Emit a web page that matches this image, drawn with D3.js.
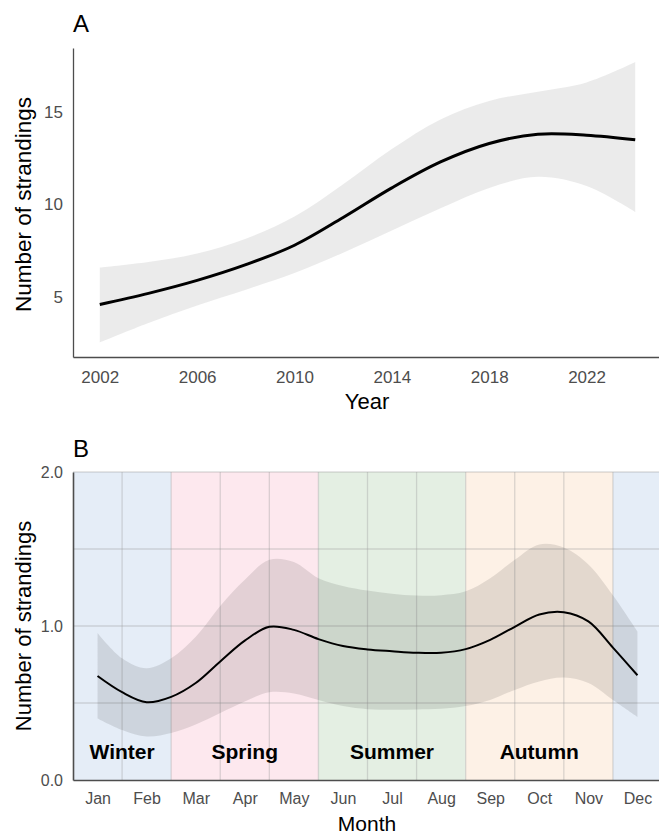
<!DOCTYPE html>
<html><head><meta charset="utf-8">
<script src="https://cdn.jsdelivr.net/npm/d3@7"></script>
<style>body{margin:0;background:#fff}svg{display:block;font-family:"Liberation Sans",Arial,sans-serif}</style>
</head><body>
<svg id="c" width="659" height="834"></svg>
<script>
// Panel A data
const years = [2002,2004,2006,2008,2010,2012,2014,2016,2018,2020,2022,2024];
const fitA  = [4.6,5.2,5.9,6.75,7.8,9.3,10.9,12.3,13.3,13.8,13.75,13.5];
const loA   = [2.55,3.6,4.55,5.4,6.3,7.4,8.6,9.8,10.9,11.5,11.0,9.6];
const hiA   = [6.6,6.9,7.35,8.15,9.35,11.1,13.0,14.6,15.6,16.1,16.6,17.7];
const yearTicks = [2002,2006,2010,2014,2018,2022];
const countTicksA = [5,10,15];

// Panel B data
const months = [1,1.5,2,2.5,3,3.5,4,4.5,5,5.5,6,6.5,7,7.5,8,8.5,9,9.5,10,10.5,11,11.5,12];
const fitB = [0.675,0.57,0.505,0.54,0.63,0.77,0.905,0.995,0.975,0.915,0.87,0.848,0.836,0.826,0.826,0.85,0.91,0.995,1.075,1.09,1.03,0.86,0.68];
const loB  = [0.40,0.325,0.283,0.305,0.36,0.435,0.51,0.57,0.562,0.52,0.48,0.46,0.456,0.458,0.462,0.48,0.52,0.585,0.64,0.665,0.63,0.52,0.41];
const hiB  = [0.955,0.79,0.725,0.79,0.93,1.13,1.30,1.43,1.415,1.31,1.26,1.23,1.21,1.198,1.2,1.225,1.31,1.43,1.53,1.51,1.40,1.20,0.965];
const monthLabels = ["Jan","Feb","Mar","Apr","May","Jun","Jul","Aug","Sep","Oct","Nov","Dec"];
const countTicksB = [0,1,2];
const gridB = [0.5,1,1.5,2];
const seasonNames  = ["Winter","Spring","Summer","Autumn","Winter"];
const seasonStart  = [0.5,2.5,5.5,8.5,11.5];
const seasonEnd    = [2.5,5.5,8.5,11.5,12.5];
const seasonLabelAt= [1.5,4,7,10,null];
const seasonColors = ["#e5edf7","#fde8ee","#e4efe3","#fdf1e6","#e5edf7"];

const svg = d3.select("#c");
const axisCol = "#4d4d4d";
const smooth = d3.curveCatmullRom.alpha(0.5);

// ---------- Panel A ----------
const xA = d3.scaleLinear().domain([2000.9,2025.1]).range([73,662]);
const yA = d3.scaleLinear().domain([1.76,18.46]).range([357,48]);
const A = svg.append("g");
const dA = years.map((y,i)=>({x:y,f:fitA[i],lo:loA[i],hi:hiA[i]}));
A.append("path").datum(dA)
  .attr("fill","#999999").attr("fill-opacity",0.2)
  .attr("d",d3.area().x(d=>xA(d.x)).y0(d=>yA(d.lo)).y1(d=>yA(d.hi)).curve(smooth));
A.append("path").datum(dA)
  .attr("fill","none").attr("stroke","#000").attr("stroke-width",3)
  .attr("d",d3.line().x(d=>xA(d.x)).y(d=>yA(d.f)).curve(smooth));
const axA = A.append("g").attr("transform","translate(0,357)")
  .call(d3.axisBottom(xA).tickValues(yearTicks).tickFormat(d3.format("d")).tickSize(0).tickPadding(14));
const ayA = A.append("g").attr("transform","translate(73,0)")
  .call(d3.axisLeft(yA).tickValues(countTicksA).tickSize(0).tickPadding(10));
[axA,ayA].forEach(g=>{
  g.select(".domain").attr("stroke",axisCol).attr("stroke-width",1.3);
  g.selectAll("text").attr("fill",axisCol).attr("font-size",17).attr("font-family","Liberation Sans, Arial, sans-serif");
});
A.append("text").attr("x",73).attr("y",32).attr("font-size",24).attr("fill","#000").text("A");
A.append("text").attr("x",367).attr("y",409).attr("text-anchor","middle").attr("font-size",22).attr("fill","#000").text("Year");
A.append("text").attr("transform","translate(31,"+((52+357)/2)+") rotate(-90)").attr("text-anchor","middle").attr("font-size",22.5).attr("fill","#000").text("Number of strandings");

// ---------- Panel B ----------
const xB = d3.scaleLinear().domain([0.5,12.5]).range([73,662]);
const yB = d3.scaleLinear().domain([0,2]).range([780,472]);
const B = svg.append("g");
B.selectAll("rect.season").data(seasonNames).enter().append("rect")
  .attr("x",(d,i)=>xB(seasonStart[i])).attr("width",(d,i)=>xB(seasonEnd[i])-xB(seasonStart[i]))
  .attr("y",yB(2)).attr("height",yB(0)-yB(2)).attr("fill",(d,i)=>seasonColors[i]);
// grid
B.selectAll("line.gh").data(gridB).enter().append("line")
  .attr("x1",xB(0.5)).attr("x2",xB(12.5)).attr("y1",d=>yB(d)).attr("y2",d=>yB(d))
  .attr("stroke","#9a9a9a").attr("stroke-opacity",0.35).attr("stroke-width",1.3);
const vGrid = d3.range(1.5,12.5,1);
B.selectAll("line.gv").data(vGrid).enter().append("line")
  .attr("x1",d=>xB(d)).attr("x2",d=>xB(d)).attr("y1",yB(0)).attr("y2",yB(2))
  .attr("stroke","#9a9a9a").attr("stroke-opacity",0.35).attr("stroke-width",1.3);
const dB = months.map((m,i)=>({x:m,f:fitB[i],lo:loB[i],hi:hiB[i]}));
B.append("path").datum(dB)
  .attr("fill","#000").attr("fill-opacity",0.1)
  .attr("d",d3.area().x(d=>xB(d.x)).y0(d=>yB(d.lo)).y1(d=>yB(d.hi)).curve(smooth));
B.append("path").datum(dB)
  .attr("fill","none").attr("stroke","#000").attr("stroke-width",2)
  .attr("d",d3.line().x(d=>xB(d.x)).y(d=>yB(d.f)).curve(smooth));
B.selectAll("text.season").data(seasonNames.filter((d,i)=>seasonLabelAt[i]!==null)).enter().append("text")
  .attr("x",(d,i)=>xB(seasonLabelAt[i])).attr("y",759).attr("text-anchor","middle")
  .attr("font-size",21).attr("font-weight","bold").attr("fill","#000").text(d=>d);
const axB = B.append("g").attr("transform","translate(0,780)")
  .call(d3.axisBottom(xB).tickValues(d3.range(1,13)).tickFormat(d=>monthLabels[d-1]).tickSize(0).tickPadding(13));
const ayB = B.append("g").attr("transform","translate(73,0)")
  .call(d3.axisLeft(yB).tickValues(countTicksB).tickFormat(d3.format(".1f")).tickSize(0).tickPadding(10));
[axB,ayB].forEach(g=>{
  g.select(".domain").attr("stroke",axisCol).attr("stroke-width",1.6);
  g.selectAll("text").attr("fill",axisCol).attr("font-size",16).attr("font-family","Liberation Sans, Arial, sans-serif");
});
B.append("text").attr("x",73).attr("y",457).attr("font-size",24).attr("fill","#000").text("B");
B.append("text").attr("x",367).attr("y",831).attr("text-anchor","middle").attr("font-size",21).attr("fill","#000").text("Month");
B.append("text").attr("transform","translate(31,"+((472+780)/2)+") rotate(-90)").attr("text-anchor","middle").attr("font-size",22).attr("fill","#000").text("Number of strandings");
</script>
</body></html>
